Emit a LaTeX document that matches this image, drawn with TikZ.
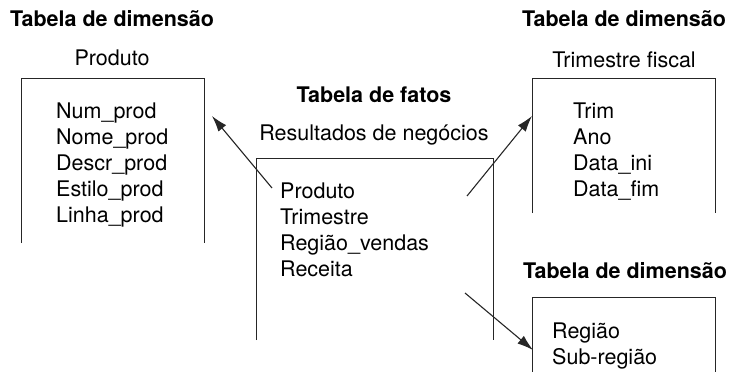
\documentclass[tikz,border=0pt]{standalone}
\usepackage{fontspec}
\setmainfont{TeX Gyre Heros}
\usetikzlibrary{arrows.meta}
\begin{document}
\begin{tikzpicture}[x=1pt,y=-1pt,font=\fontsize{21.5}{26}\selectfont]

    \tikzset{tbl/.style={inner sep=0pt,minimum width=182pt},
             fld/.style={inner sep=0pt,anchor=base west},
             hdr/.style={inner sep=0pt,anchor=base,font=\fontsize{21.5}{26}\selectfont\bfseries},
             tname/.style={inner sep=0pt,anchor=base},
             edge/.style={line width=1.1pt,black!85}}
    \useasboundingbox (0,0) rectangle (731,372);

    \node[hdr] (hprod) at (112,27) {Tabela de dimensão};
    \node[tname] (nprod) at (112,65) {Produto};
    \node[tbl,minimum height=164pt] (bprod) at (113,161) {};
    \node[fld] (p1) at (56,118) {Num\_prod};
    \node[fld] (p2) at (56,144) {Nome\_prod};
    \node[fld] (p3) at (56,170) {Descr\_prod};
    \node[fld] (p4) at (56,196) {Estilo\_prod};
    \node[fld] (p5) at (56,222) {Linha\_prod};

    \node[hdr] (hfat) at (374,102) {Tabela de fatos};
    \node[tname] (nfat) at (374,140) {Resultados de negócios};
    \node[tbl,minimum width=236pt,minimum height=181pt] (bfat) at (375,249.5) {};
    \node[fld] (f1) at (280,198) {Produto};
    \node[fld] (f2) at (280,224) {Trimestre};
    \node[fld] (f3) at (280,250) {Região\_vendas};
    \node[fld] (f4) at (280,276) {Receita};

    \node[hdr] (htri) at (624,27) {Tabela de dimensão};
    \node[tname] (ntri) at (624,67) {Trimestre fiscal};
    \node[tbl,minimum height=134pt] (btri) at (624,146) {};
    \node[fld] (t1) at (573,118) {Trim};
    \node[fld] (t2) at (573,144) {Ano};
    \node[fld] (t3) at (573,170) {Data\_ini};
    \node[fld] (t4) at (573,196) {Data\_fim};

    \node[hdr] (hreg) at (625,278) {Tabela de dimensão};
    \node[tbl,minimum height=78pt] (breg) at (624,337) {};
    \node[fld] (r1) at (552,338) {Região};
    \node[fld] (r2) at (552,364) {Sub-região};

    \coordinate (aprod) at (212,116);
    \coordinate (atri) at (532,116);
    \coordinate (areg) at (533,350);
    \coordinate (sprod) at (272,188);
    \coordinate (stri) at (467,196);
    \coordinate (sreg) at (465,293);

    \begin{scope}[every path/.style={edge}]
        \draw (bprod.south west) |- (bprod.north east) -- (bprod.south east);
        \draw (bfat.south west) |- (bfat.north east) -- (bfat.south east);
        \draw (btri.south west) |- (btri.north east) -- (btri.south east);
        \draw (breg.south west) |- (breg.north east) -- (breg.south east);
    \end{scope}

    \begin{scope}[every path/.style={edge,-{Latex[length=16pt,width=10pt]}}]
        \draw (sprod) -- (aprod);
        \draw (stri) -- (atri);
        \draw (sreg) -- (areg);
    \end{scope}
\end{tikzpicture}
\end{document}
